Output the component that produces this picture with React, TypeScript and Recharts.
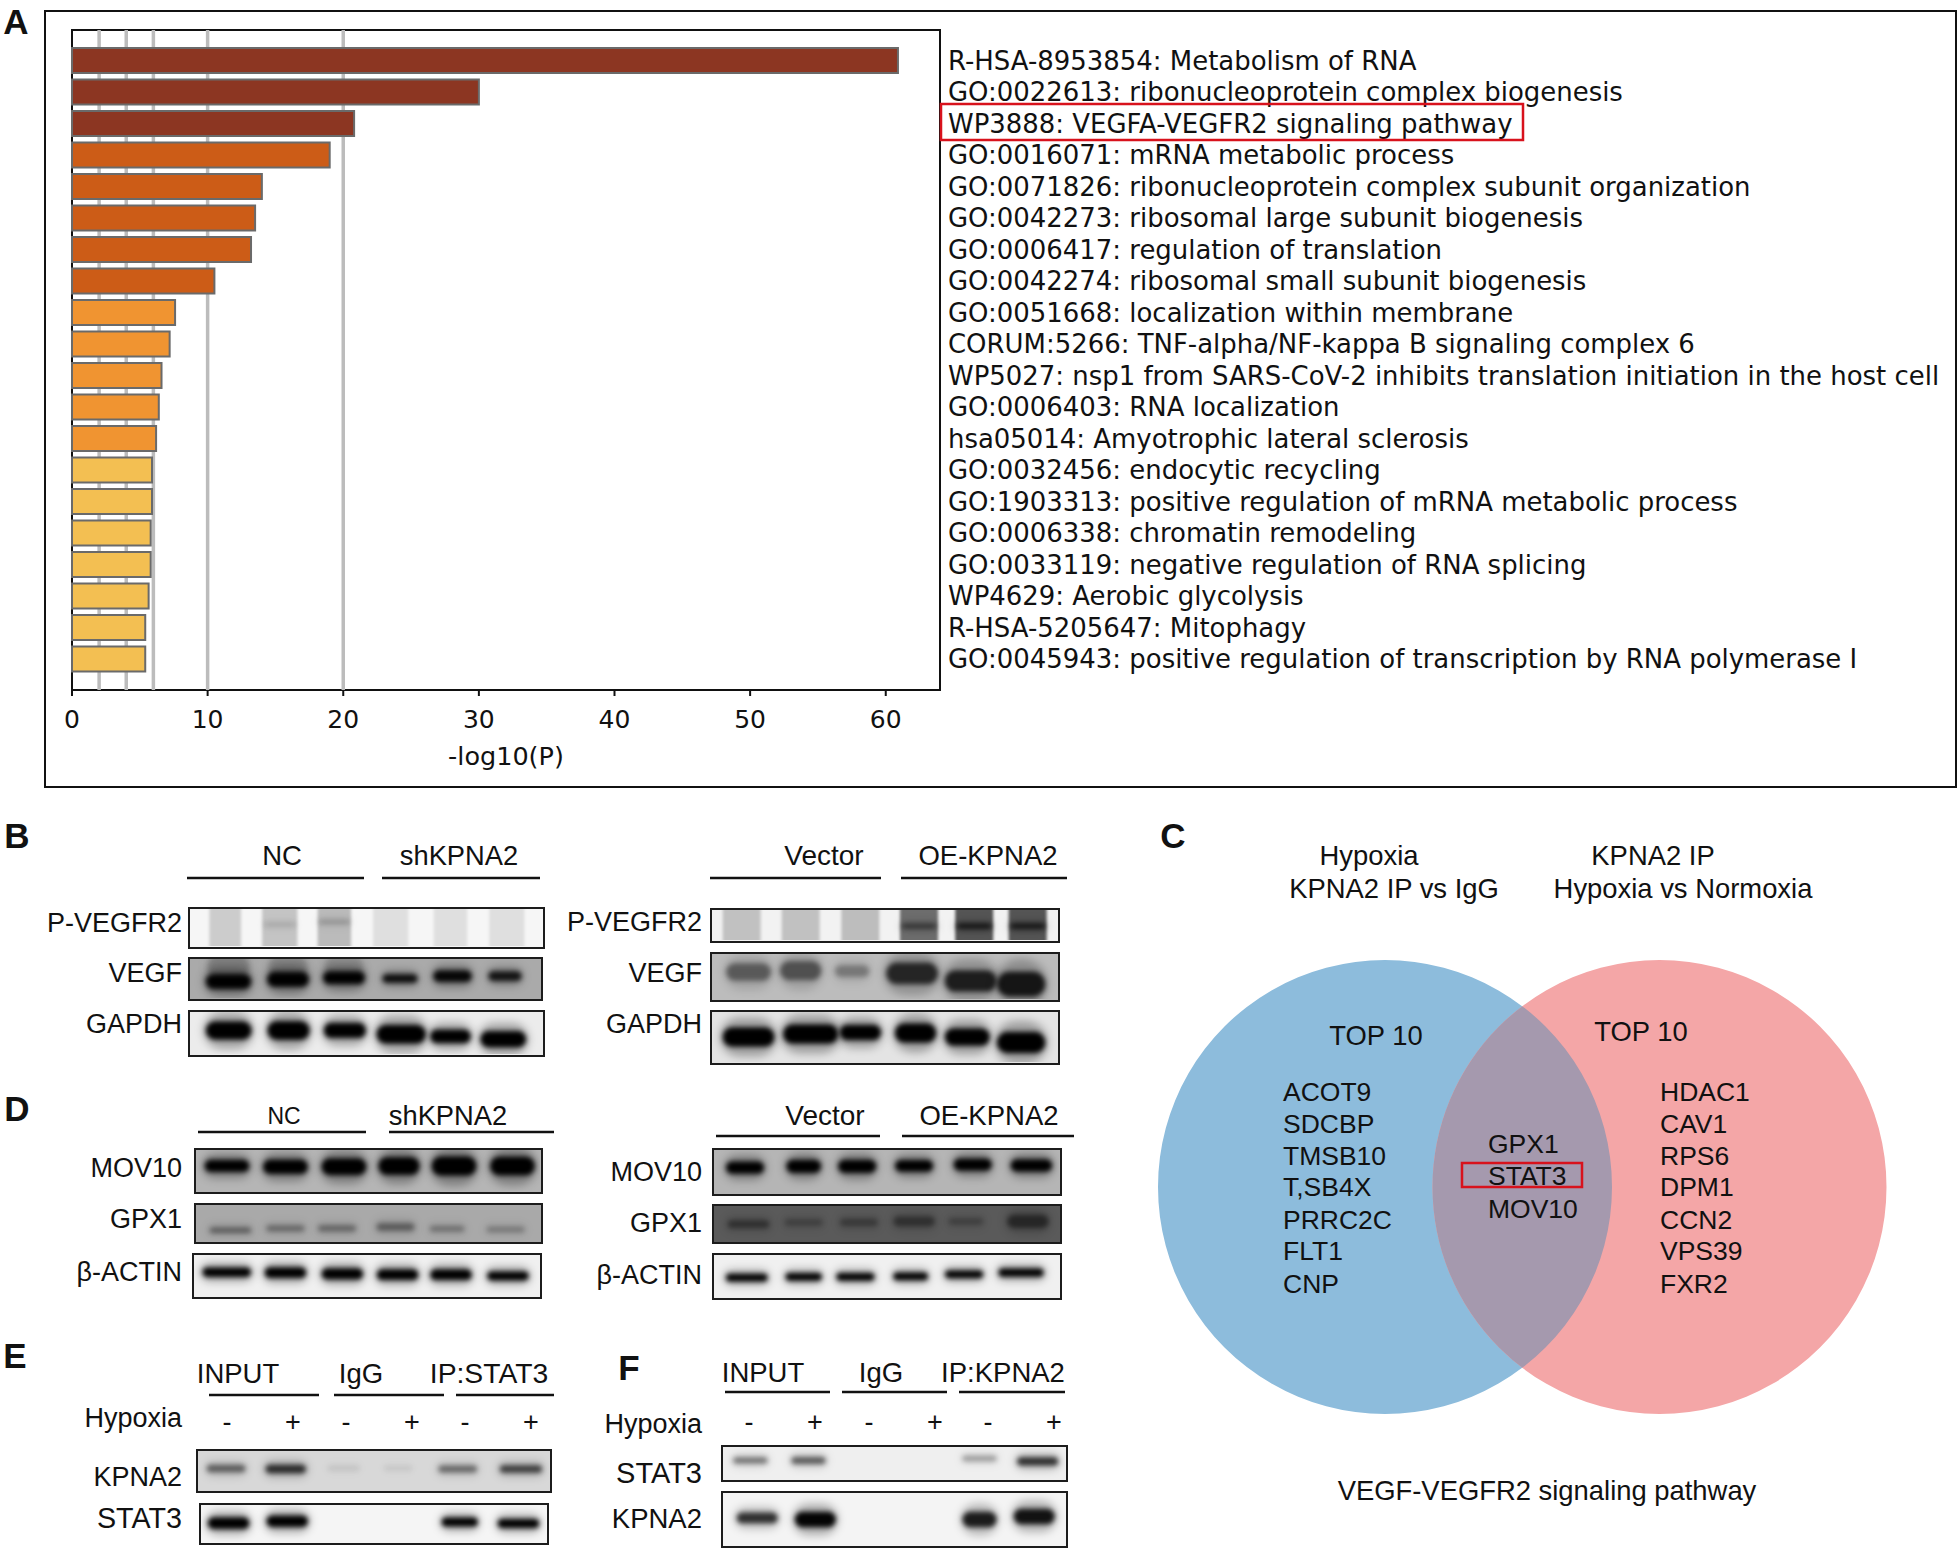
import { BarChart, Bar, Cell, CartesianGrid, Pie, PieChart, Scatter, ScatterChart, XAxis, YAxis } from "recharts";

// panel A
const TERMS = [
  "R-HSA-8953854: Metabolism of RNA",
  "GO:0022613: ribonucleoprotein complex biogenesis",
  "WP3888: VEGFA-VEGFR2 signaling pathway",
  "GO:0016071: mRNA metabolic process",
  "GO:0071826: ribonucleoprotein complex subunit organization",
  "GO:0042273: ribosomal large subunit biogenesis",
  "GO:0006417: regulation of translation",
  "GO:0042274: ribosomal small subunit biogenesis",
  "GO:0051668: localization within membrane",
  "CORUM:5266: TNF-alpha/NF-kappa B signaling complex 6",
  "WP5027: nsp1 from SARS-CoV-2 inhibits translation initiation in the host cell",
  "GO:0006403: RNA localization",
  "hsa05014: Amyotrophic lateral sclerosis",
  "GO:0032456: endocytic recycling",
  "GO:1903313: positive regulation of mRNA metabolic process",
  "GO:0006338: chromatin remodeling",
  "GO:0033119: negative regulation of RNA splicing",
  "WP4629: Aerobic glycolysis",
  "R-HSA-5205647: Mitophagy",
  "GO:0045943: positive regulation of transcription by RNA polymerase I",
];
const LOG_P = [60.9, 30, 20.8, 19, 14, 13.5, 13.2, 10.5, 7.6, 7.2, 6.6, 6.4, 6.2, 5.9, 5.9, 5.8, 5.8, 5.65, 5.4, 5.4];
const BAR_COLORS = [
  "#8c3622", "#8c3622", "#8c3622",
  "#cc5c17", "#cc5c17", "#cc5c17", "#cc5c17", "#cc5c17",
  "#f09431", "#f09431", "#f09431", "#f09431", "#f09431",
  "#f3bf52", "#f3bf52", "#f3bf52", "#f3bf52", "#f3bf52", "#f3bf52", "#f3bf52",
];
const X_TICKS = [0, 10, 20, 30, 40, 50, 60];
const GRID_VALUES = [2, 4, 6, 10, 20];

const enrichment = TERMS.map((term, i) => ({ term, logP: LOG_P[i] }));

// panel C
const VENN_LEFT = [{ name: "Hypoxia KPNA2 IP vs IgG", value: 10 }];
const VENN_RIGHT = [{ name: "KPNA2 IP Hypoxia vs Normoxia", value: 10 }];
const VENN_SHARED = [{ name: "shared", value: 3 }];
const LEFT_GENES = ["ACOT9", "SDCBP", "TMSB10", "T,SB4X", "PRRC2C", "FLT1", "CNP"];
const RIGHT_GENES = ["HDAC1", "CAV1", "RPS6", "DPM1", "CCN2", "VPS39", "FXR2"];
const SHARED_GENES = ["GPX1", "STAT3", "MOV10"];

// blots: each row is one band as [lane %, level %, density, width %, height %]
const P_VEGFR2_L = [
  [10, 50, 0.17, 9, 140], [25.5, 50, 0.2, 10, 140], [41, 50, 0.24, 9.5, 140],
  [57, 50, 0.09, 10, 140], [74, 50, 0.09, 9.5, 140], [90, 50, 0.09, 10, 140],
  [25.5, 42, 0.15, 9, 7], [41, 35, 0.2, 9, 9],
];
const VEGF_L = [
  [11, 58, 0.98, 13, 30], [28, 52, 0.98, 12, 30], [44, 48, 0.98, 12, 26],
  [60, 50, 0.9, 10, 17], [75, 44, 0.95, 11, 23], [90, 44, 0.85, 9.5, 19],
  [11, 20, 0.2, 12, 50], [28, 20, 0.15, 11, 50], [44, 20, 0.12, 11, 50],
];
const GAPDH_L = [
  [11, 44, 1, 13, 34], [28, 44, 1, 12, 35], [44, 44, 1, 12, 28],
  [60, 53, 1, 14, 35], [74, 58, 1, 11.5, 25], [89, 65, 1, 13, 30],
];
const P_VEGFR2_R = [
  [8.6, 50, 0.2, 11, 140], [25.7, 50, 0.2, 11, 140], [43, 50, 0.22, 11, 140],
  [60, 50, 0.55, 11, 140], [76, 50, 0.65, 11, 140], [91.5, 50, 0.65, 11, 140],
  [60, 54, 0.5, 10, 12], [76, 54, 0.8, 10, 12], [91.5, 54, 0.8, 10, 12],
];
const VEGF_R = [
  [10.6, 40, 0.45, 13, 30], [25.7, 37, 0.5, 12, 33], [40.6, 38, 0.3, 10, 20],
  [58, 43, 0.75, 15, 37], [75, 60, 0.8, 15, 37], [89.6, 67, 0.85, 14, 43],
];
const GAPDH_R = [
  [10.6, 50, 1, 15, 30], [28.6, 44, 1, 16, 30], [43, 41, 1, 12, 24],
  [59, 42, 1, 12, 30], [74, 50, 1, 13, 27], [89.6, 61, 1, 14, 33],
];
const MOV10_L = [
  [9, 39, 1, 13, 23], [26, 41, 1, 13, 27], [43, 41, 1, 13, 32],
  [59, 39, 1, 12, 34], [75, 39, 1, 13, 37], [92, 39, 1, 13, 36],
];
const GPX1_L = [
  [10, 70, 0.4, 12, 12], [26, 65, 0.35, 11, 12], [41, 65, 0.35, 11, 13],
  [58, 61, 0.4, 11, 16], [73, 66, 0.3, 10, 12], [90, 68, 0.25, 11, 12],
];
const ACTIN_L = [
  [9.5, 42, 1, 14, 18], [26.5, 43, 1, 12, 20], [43, 46, 1, 12, 21],
  [59, 48, 1, 12, 20], [74.5, 48, 1, 12, 20], [91, 51, 1, 12, 17],
];
const MOV10_R = [
  [9, 41, 1, 11, 22], [26, 38, 1, 10, 24], [41.5, 38, 1, 11, 24],
  [58, 37, 1, 11, 21], [75, 34, 1, 11, 22], [92, 36, 1, 12, 22],
];
const GPX1_R = [
  [10, 52, 0.4, 12, 17], [26, 47, 0.25, 11, 15], [42, 47, 0.3, 11, 17],
  [58, 44, 0.4, 12, 21], [73, 44, 0.25, 10, 15], [91, 44, 0.5, 12, 29],
];
const ACTIN_R = [
  [9.5, 54, 1, 12, 14], [26, 52, 1, 10.5, 14], [41, 52, 1, 11, 14],
  [57, 51, 1, 10, 14], [72.5, 46, 1, 11, 14], [89, 42, 1, 13, 15],
];
const KPNA2_E = [
  [8, 45, 0.5, 11, 15], [25, 46, 0.75, 11.5, 17], [41.5, 44, 0.08, 9, 10],
  [57, 44, 0.07, 8, 9], [74, 46, 0.45, 11, 14], [92, 46, 0.65, 12, 15],
];
const STAT3_E = [[8, 49, 1, 12, 24], [25, 44, 1, 12, 24], [75, 46, 1, 10.5, 19], [92, 50, 1, 12, 19]];
const STAT3_F = [[8, 42, 0.45, 10, 15], [25, 42, 0.55, 10, 17], [75, 36, 0.3, 10, 13], [92, 45, 0.75, 12, 20]];
const KPNA2_F = [[10, 48, 0.75, 12, 16], [27, 51, 0.98, 12, 23], [75, 51, 0.85, 10, 23], [91, 45, 0.9, 12, 23]];

const BLOTS = [
  { bands: P_VEGFR2_L, box: [188, 907, 357, 42], bg: "#f6f6f6" },
  { bands: VEGF_L, box: [188, 957, 355, 44], bg: "#aaaaaa" },
  { bands: GAPDH_L, box: [188, 1010, 357, 47], bg: "#ececec" },
  { bands: P_VEGFR2_R, box: [710, 908, 350, 35], bg: "#f2f2f2" },
  { bands: VEGF_R, box: [710, 952, 350, 50], bg: "#bcbcbc" },
  { bands: GAPDH_R, box: [710, 1010, 350, 55], bg: "#e4e4e4" },
  { bands: MOV10_L, box: [194, 1148, 349, 46], bg: "#b5b5b5" },
  { bands: GPX1_L, box: [194, 1203, 349, 41], bg: "#a9a9a9" },
  { bands: ACTIN_L, box: [192, 1253, 350, 46], bg: "#f0f0f0" },
  { bands: MOV10_R, box: [712, 1148, 350, 48], bg: "#b5b5b5" },
  { bands: GPX1_R, box: [712, 1204, 350, 40], bg: "#5a5a5a" },
  { bands: ACTIN_R, box: [712, 1253, 350, 47], bg: "#f0f0f0" },
  { bands: KPNA2_E, box: [196, 1449, 356, 44], bg: "#d8d8d8" },
  { bands: STAT3_E, box: [199, 1503, 350, 42], bg: "#f5f5f5" },
  { bands: STAT3_F, box: [721, 1445, 347, 37], bg: "#efefef" },
  { bands: KPNA2_F, box: [721, 1491, 347, 57], bg: "#f4f4f4" },
];

// [text, x, y, size, anchor]
const BLOT_LABELS: [string, number, number, number, string][] = [
  ["NC", 282, 855, 27.5, "middle"], ["shKPNA2", 459, 855, 27.3, "middle"],
  ["Vector", 824, 855, 28, "middle"], ["OE-KPNA2", 988, 855, 27.5, "middle"],
  ["P-VEGFR2", 182, 923, 27, "end"], ["VEGF", 182, 973, 27, "end"], ["GAPDH", 182, 1024, 27, "end"],
  ["P-VEGFR2", 702, 922, 27, "end"], ["VEGF", 702, 973, 27, "end"], ["GAPDH", 702, 1024, 27, "end"],
  ["NC", 284, 1116, 23, "middle"], ["shKPNA2", 448, 1115, 27.3, "middle"],
  ["Vector", 825, 1115, 28, "middle"], ["OE-KPNA2", 989, 1115, 27.5, "middle"],
  ["MOV10", 182, 1168, 27, "end"], ["GPX1", 182, 1219, 27, "end"], ["β-ACTIN", 182, 1272, 27, "end"],
  ["MOV10", 702, 1172, 27, "end"], ["GPX1", 702, 1223, 27, "end"], ["β-ACTIN", 702, 1275, 27, "end"],
  ["INPUT", 238, 1373, 27.5, "middle"], ["IgG", 361, 1373, 27.5, "middle"], ["IP:STAT3", 489, 1373, 28.3, "middle"],
  ["INPUT", 763, 1372, 27.5, "middle"], ["IgG", 881, 1372, 27.5, "middle"], ["IP:KPNA2", 1003, 1372, 27.5, "middle"],
  ["Hypoxia", 182, 1418, 27, "end"], ["Hypoxia", 702, 1424, 27, "end"],
  ["KPNA2", 182, 1477, 27, "end"], ["STAT3", 182, 1518, 28.7, "end"],
  ["STAT3", 702, 1473, 29, "end"], ["KPNA2", 702, 1518, 27.5, "end"],
];
const HYPOXIA_MARKS = ["-", "+", "-", "+", "-", "+"];
const HYPOXIA_X_E = [227, 293, 346, 412, 465, 531];
const HYPOXIA_X_F = [749, 815, 869, 935, 988, 1054];

// [x1, x2, y]
const UNDERLINES = [
  [187, 364, 878], [382, 540, 878], [710, 881, 878], [901, 1067, 878],
  [198, 366, 1132], [389, 554, 1132], [716, 880, 1136], [902, 1074, 1136],
  [209, 319, 1395], [334, 444, 1395], [456, 554, 1395],
  [725, 830, 1392], [842, 947, 1392], [959, 1065, 1392],
];
const PANEL_LETTERS: [string, number, number][] = [
  ["A", 16, 21], ["B", 17, 835], ["C", 1173, 835], ["D", 17, 1108], ["E", 15, 1355], ["F", 629, 1367],
];
const GENE_ROWS = [1092, 1124, 1156, 1187, 1220, 1251, 1284];
const SHARED_ROWS = [1144, 1176, 1209];
const VENN_LABELS: [string, number, number, string][] = [
  ["Hypoxia", 1369, 855, "middle"], ["KPNA2 IP vs IgG", 1394, 888, "middle"],
  ["KPNA2 IP", 1653, 855, "middle"], ["Hypoxia vs Normoxia", 1683, 888, "middle"],
  ["TOP 10", 1376, 1035, "middle"], ["TOP 10", 1641, 1031, "middle"],
  ["VEGF-VEGFR2 signaling pathway", 1547, 1490, "middle"],
];

const ARIAL = "'Liberation Sans', Arial, sans-serif";
const DEJAVU = "'DejaVu Sans', sans-serif";

function Blot({ bands, box, bg }: { bands: number[][]; box: number[]; bg: string }) {
  const [left, top, width, height] = box;
  const innerW = width - 5;
  const innerH = height - 5;
  const rows = bands.map(([x, y, density, w, h]) => ({ x, y, density, w, h }));
  return (
    <div
      style={{
        position: "absolute",
        left,
        top,
        width,
        height,
        boxSizing: "border-box",
        background: bg,
        border: "2.5px solid #1c1c1c",
        overflow: "hidden",
      }}
    >
      <ScatterChart width={innerW} height={innerH} margin={{ top: 0, right: 0, bottom: 0, left: 0 }}>
        <XAxis type="number" dataKey="x" domain={[0, 100]} hide />
        <YAxis type="number" dataKey="y" domain={[0, 100]} reversed hide />
        <Scatter
          data={rows}
          isAnimationActive={false}
          shape={(props: any) => {
            const { cx, cy, payload } = props;
            const w = (payload.w / 100) * innerW;
            const lane = payload.h >= 100;
            const h = (payload.h / 100) * innerH * (lane ? 1 : 1.3);
            if (lane) {
              return (
                <rect
                  x={cx - w / 2}
                  y={cy - h / 2}
                  width={w}
                  height={h}
                  fill="#000"
                  fillOpacity={payload.density}
                  style={{ filter: "blur(1.5px)" }}
                />
              );
            }
            return (
              <g>
                <rect
                  x={cx - w * 0.55}
                  y={cy - h}
                  width={w * 1.1}
                  height={h * 2}
                  rx={h}
                  fill="#000"
                  fillOpacity={payload.density * 0.3}
                  style={{ filter: "blur(4px)" }}
                />
                <rect
                  x={cx - w / 2}
                  y={cy - h / 2}
                  width={w}
                  height={h}
                  rx={Math.min(w, h) / 2}
                  fill="#000"
                  fillOpacity={payload.density}
                  style={{ filter: "blur(2.5px)" }}
                />
              </g>
            );
          }}
        />
      </ScatterChart>
    </div>
  );
}

function VennPie({ data, cx, fill, clip }: { data: { name: string; value: number }[]; cx: number; fill: string; clip?: string }) {
  return (
    <Pie
      data={data}
      dataKey="value"
      cx={cx}
      cy={237}
      innerRadius={0}
      outerRadius={227}
      startAngle={0}
      endAngle={360}
      stroke="none"
      isAnimationActive={false}
    >
      {data.map((d) => (
        <Cell key={d.name} fill={fill} clipPath={clip} />
      ))}
    </Pie>
  );
}

export default function App() {
  return (
    <div style={{ position: "absolute", left: 0, top: 0, width: 1960, height: 1553, background: "#fff", overflow: "hidden" }}>
      {/* panel frame and plot frame */}
      <div style={{ position: "absolute", left: 44, top: 10, width: 1913, height: 778, boxSizing: "border-box", border: "2.5px solid #111" }} />
      <div style={{ position: "absolute", left: 71, top: 29, width: 870, height: 662, boxSizing: "border-box", border: "2.5px solid #111" }} />

      <div style={{ position: "absolute", left: 0, top: 0 }}>
        <BarChart
          width={1960}
          height={790}
          data={enrichment}
          layout="vertical"
          margin={{ top: 30, right: 0, bottom: 0, left: 72 }}
          barCategoryGap={0}
        >
          <CartesianGrid horizontal={false} verticalValues={GRID_VALUES} stroke="#bcbcbc" strokeWidth={3.5} />
          <XAxis
            type="number"
            domain={[0, 64]}
            ticks={X_TICKS}
            height={100}
            axisLine={false}
            tickSize={6}
            tickMargin={14}
            tickLine={{ stroke: "#111", strokeWidth: 2 }}
            tick={{ fontFamily: DEJAVU, fontSize: 25, fill: "#111" }}
            label={{ value: "-log10(P)", position: "insideTop", dy: 52, fontFamily: DEJAVU, fontSize: 25.5, fill: "#111" }}
          />
          <YAxis
            type="category"
            dataKey="term"
            orientation="right"
            width={1020}
            interval={0}
            axisLine={false}
            tickLine={false}
            tickSize={0}
            tickMargin={8}
            padding={{ top: 15, bottom: 15 }}
            tick={{ fontFamily: DEJAVU, fontSize: 25.95, fill: "#111" }}
          />
          <Bar dataKey="logP" barSize={25} stroke="#6a6a6a" strokeWidth={2} isAnimationActive={false}>
            {enrichment.map((row, i) => (
              <Cell key={row.term} fill={BAR_COLORS[i]} />
            ))}
          </Bar>
        </BarChart>
      </div>

      {BLOTS.map((b, i) => (
        <Blot key={i} bands={b.bands} box={b.box} bg={b.bg} />
      ))}

      <div style={{ position: "absolute", left: 1140, top: 950 }}>
        <PieChart width={780} height={490} margin={{ top: 0, right: 0, bottom: 0, left: 0 }}>
          <defs>
            <clipPath id="vennRightClip">
              <circle cx={519.5} cy={237} r={227} />
            </clipPath>
          </defs>
          <VennPie data={VENN_LEFT} cx={245} fill="#8dbcdc" />
          <VennPie data={VENN_RIGHT} cx={519.5} fill="#f4a6a7" />
          <VennPie data={VENN_SHARED} cx={245} fill="#a599ae" clip="url(#vennRightClip)" />
        </PieChart>
      </div>

      <svg width={1960} height={1553} style={{ position: "absolute", left: 0, top: 0, pointerEvents: "none" }}>
        <rect x={941} y={104} width={582} height={36} fill="none" stroke="#d8121c" strokeWidth={2.5} />
        <rect x={1462} y={1163} width={120} height={24} fill="none" stroke="#d8121c" strokeWidth={2.5} />
        {UNDERLINES.map(([x1, x2, y], i) => (
          <line key={i} x1={x1} x2={x2} y1={y} y2={y} stroke="#111" strokeWidth={2.5} />
        ))}
        <g fontFamily={ARIAL} fill="#111" dominantBaseline="central">
          {BLOT_LABELS.map(([t, x, y, size, anchor], i) => (
            <text key={i} x={x} y={y} fontSize={size} textAnchor={anchor as any}>
              {t}
            </text>
          ))}
          {HYPOXIA_X_E.map((x, i) => (
            <text key={i} x={x} y={1422} fontSize={27} textAnchor="middle">
              {HYPOXIA_MARKS[i]}
            </text>
          ))}
          {HYPOXIA_X_F.map((x, i) => (
            <text key={i} x={x} y={1422} fontSize={27} textAnchor="middle">
              {HYPOXIA_MARKS[i]}
            </text>
          ))}
          {VENN_LABELS.map(([t, x, y, anchor], i) => (
            <text key={i} x={x} y={y} fontSize={27.4} textAnchor={anchor as any}>
              {t}
            </text>
          ))}
          {LEFT_GENES.map((g, i) => (
            <text key={g} x={1283} y={GENE_ROWS[i]} fontSize={26.5}>
              {g}
            </text>
          ))}
          {RIGHT_GENES.map((g, i) => (
            <text key={g} x={1660} y={GENE_ROWS[i]} fontSize={26.5}>
              {g}
            </text>
          ))}
          {SHARED_GENES.map((g, i) => (
            <text key={g} x={1488} y={SHARED_ROWS[i]} fontSize={26.5}>
              {g}
            </text>
          ))}
          {PANEL_LETTERS.map(([t, x, y]) => (
            <text key={t} x={x} y={y} fontSize={35} fontWeight={700} textAnchor="middle">
              {t}
            </text>
          ))}
        </g>
      </svg>
    </div>
  );
}
